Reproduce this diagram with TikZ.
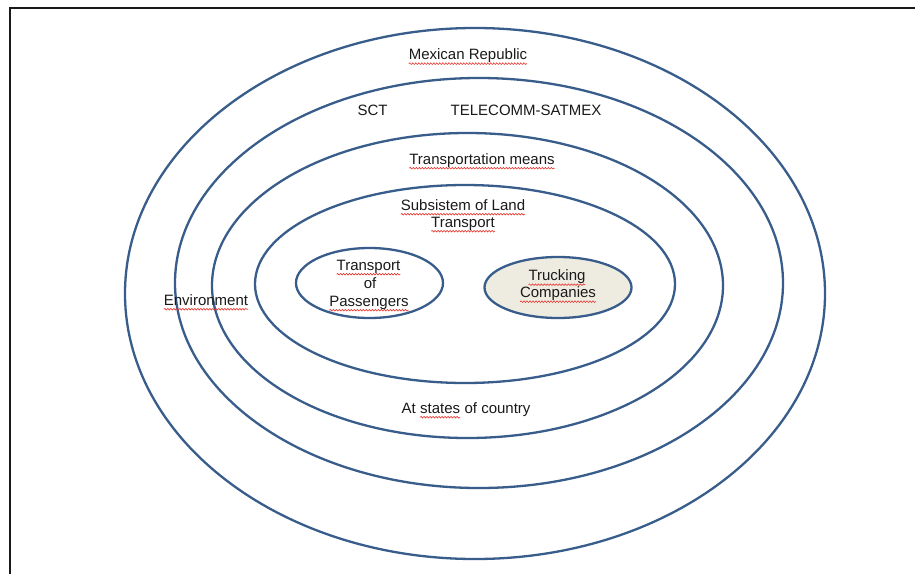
\documentclass[tikz,border=0pt]{standalone}
\usepackage{fontspec}
\setmainfont{Liberation Sans}
\usetikzlibrary{decorations.pathmorphing}
\definecolor{ringblue}{HTML}{385D8A}
\definecolor{tanfill}{HTML}{EEECE1}
\definecolor{ink}{HTML}{1A1A1A}
\definecolor{squig}{HTML}{E8302A}
\newcommand\sqw[1]{\tikz[baseline=(sqwt.base)]{\node[inner sep=0pt,outer sep=0pt,anchor=base](sqwt) at (0,0){#1};\draw[squig,line width=0.6pt,decorate,decoration={snake,amplitude=0.8pt,segment length=3pt}] ([yshift=-4.2pt]sqwt.base west)--([yshift=-4.2pt]sqwt.base east);}}
\begin{document}
\begin{tikzpicture}[x=1pt,y=-1pt,
  ring/.style={draw=ringblue,line width=2.3pt},
  lbl/.style={font=\fontsize{15}{17}\selectfont,text=ink,inner sep=0pt,anchor=base}]
\useasboundingbox (0,0) rectangle (915,573);
\fill[white] (0,0) rectangle (915,573);
\draw[line width=2pt,ink] (10,575) -- (10,8) -- (917,8);
% rings
\draw[ring] (475,293.5) ellipse [x radius=350pt, y radius=265.5pt];
\draw[ring] (479,283) ellipse [x radius=304pt, y radius=205pt];
\draw[ring] (467.5,285.5) ellipse [x radius=255.5pt, y radius=152.5pt];
\draw[ring] (465,284) ellipse [x radius=210pt, y radius=99pt];
\draw[ring] (369.5,283) ellipse [x radius=73.5pt, y radius=35pt];
\draw[ring,fill=tanfill] (558,287.5) ellipse [x radius=73.5pt, y radius=30.5pt];
% labels
\node[lbl] (mex) at (468,59.5) {\sqw{Mexican Republic}};
\node[lbl] (sct) at (372.5,115) {SCT};
\node[lbl] (tel) at (526,115) {TELECOMM-SATMEX};
\node[lbl] (tm) at (482,164) {\sqw{Transportation means}};
\node[lbl] (sub1) at (463,210) {\sqw{Subsistem of Land}};
\node[lbl] (sub2) at (463,227) {\sqw{Transport}};
\node[lbl] (p1) at (368.5,270) {\sqw{Transport}};
\node[lbl] (p2) at (370,288) {of};
\node[lbl] (p3) at (369,306) {\sqw{Passengers}};
\node[lbl] (t1) at (557,280.5) {\sqw{Trucking}};
\node[lbl] (t2) at (558,297.5) {\sqw{Companies}};
\node[lbl] (env) at (206,305) {\sqw{Environment}};
\node[lbl] (at) at (466,413) {At \sqw{states} of country};
\end{tikzpicture}
\end{document}
